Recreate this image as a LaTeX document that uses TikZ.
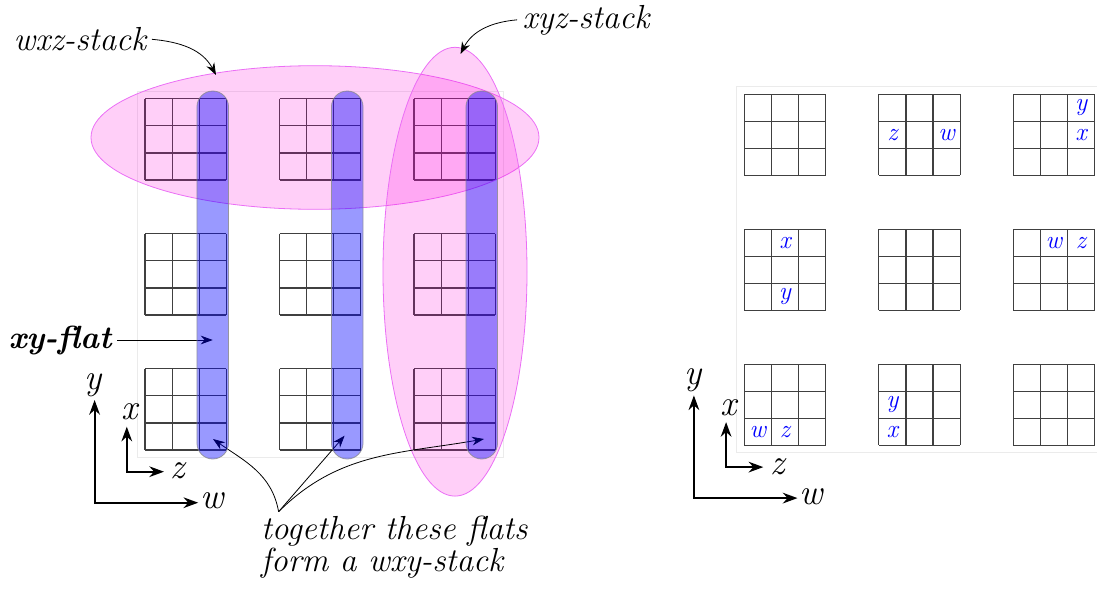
\documentclass[tikz,border=0pt]{standalone}
\usepackage{tikz}
\usetikzlibrary{arrows.meta,calc}

\begin{document}
\begin{tikzpicture}[x=0.75pt,y=-0.75pt,
  cell/.style={draw=black!75, line width=0.9pt},
  frame/.style={draw=black!8, line width=0.6pt},
  flat/.style={draw=black!45, line width=0.6pt, fill=blue, fill opacity=0.4, draw opacity=0.8,
    rounded corners=11.85pt, minimum width=23.7pt, minimum height=276pt, inner sep=0pt},
  stack/.style={draw={rgb,255:red,235;green,110;blue,245}, line width=0.6pt,
    fill={rgb,255:red,255;green,0;blue,220}, fill opacity=0.19},
  lbl/.style={font=\itshape\fontsize{25}{24}\selectfont, inner sep=4pt},
  letter/.style={text=blue, font=\itshape\fontsize{19}{19}\selectfont, inner sep=0pt},
  axlbl/.style={font=\itshape\fontsize{27}{27}\selectfont, inner sep=0pt},
  axis/.style={{Stealth[length=11pt,width=8pt]}-{Stealth[length=11pt,width=8pt]}, line width=1.5pt},
  note/.style={-{Stealth[length=9pt,width=6.5pt]}, line width=0.6pt}
]
\useasboundingbox (0,0) rectangle (1097,589);

% the two pictures, right one is the same grid moved over
\foreach \dx/\dy/\s in {0/0/L, 599.3/-4.6/R}{
  \begin{scope}[shift={(\dx,\dy)}]
    \draw[frame] (137.5,91) rectangle (503,457);
    \foreach \gx in {0,1,2}
      \foreach \gy in {0,1,2}
        \foreach \k in {0,1,2,3}{
          \draw[cell] ({145+134.5*\gx+27.1*\k},{98.7+135*\gy}) -- ++(0,81.3);
          \draw[cell] ({145+134.5*\gx},{98.7+135*\gy+27.1*\k}) -- ++(81.3,0);
        }
    % axes
    \coordinate (sx\s) at (126.8,426.7);
    \coordinate (sz\s) at (164,471.7);
    \coordinate (ly\s) at (94.6,400);
    \coordinate (lw\s) at (198.2,502.7);
    \draw[axis] (sx\s) |- (sz\s);
    \draw[axis] (ly\s) |- (lw\s);
    \node[axlbl] (x\s) at (129.5,412) {x};
    \node[axlbl] (z\s) at (178,471) {z};
    \node[axlbl] (y\s) at (93.5,385) {y};
    \node[axlbl] (w\s) at (212,501) {w};
  \end{scope}
}

% letters in the cells of the right picture
\begin{scope}[shift={(599.3,-4.6)}]
  \foreach \gx/\gy/\i/\j/\t in {1/0/0/1/z, 1/0/2/1/w, 2/0/2/0/y, 2/0/2/1/x,
      0/1/1/0/x, 0/1/1/2/y, 2/1/1/0/w, 2/1/2/0/z,
      0/2/0/2/w, 0/2/1/2/z, 1/2/0/1/y, 1/2/0/2/x}
    \node[letter] at ({145+134.5*\gx+27.1*(\i+0.5)},{98.7+135*\gy+27.1*(\j+0.5)}) {\t};
\end{scope}

% stacks
\draw[stack] (315,137.5) ellipse [x radius=224, y radius=71.8];
\draw[stack] (455,271.7) ellipse [x radius=72, y radius=224.4];

% labels
\node[lbl, anchor=base] (wxz) at (80,50.7) {wxz-stack};
\node[lbl, anchor=base] (xyz) at (586,28) {xyz-stack};
\node[lbl, anchor=base, font=\bfseries\itshape\fontsize{24}{24}\selectfont] (xyf) at (60,348) {xy-flat};
\node[lbl, align=left, anchor=north west] (wxy) at (255.5,510.5) {together these flats\\form a wxy-stack};

\coordinate (c1) at (212.75,275);
\coordinate (c2) at (347.25,275);
\coordinate (c3) at (481.75,275);
\coordinate (wxztip) at (216,75);
\coordinate (xyztip) at (460.5,54);
\coordinate (join) at (278.6,511.7);
\coordinate (t1) at (213,439);
\coordinate (t2) at (344.6,435.7);
\coordinate (t3) at (484,439);

\draw[note] (wxz.east) to[out=-5,in=118] (wxztip);
\draw[note] (xyz.west) to[out=185,in=63] (xyztip);
\draw[note] (xyf.east) -- (xyf.east -| c1);
\draw[note] (join) to[out=100,in=-35] (t1);
\draw[note] (join) -- (t2);
\draw[note] (join) to[out=45,in=190] (t3);

% xy-flats on top
\node[flat] (f1) at (c1) {};
\node[flat] (f2) at (c2) {};
\node[flat] (f3) at (c3) {};
\end{tikzpicture}
\end{document}
